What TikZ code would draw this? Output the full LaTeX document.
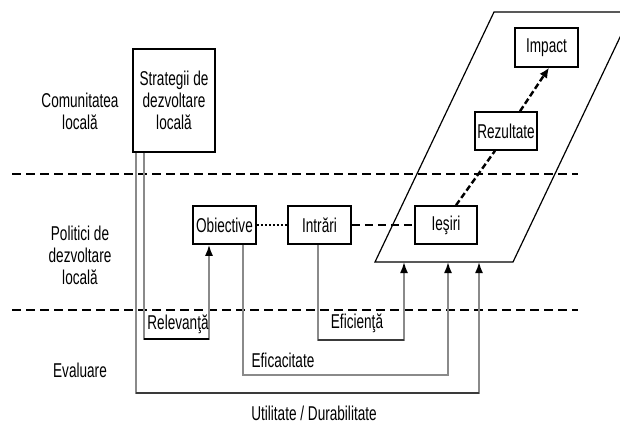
\documentclass[tikz,border=0pt]{standalone}
\usepackage{fontspec}
\setmainfont{Liberation Sans}[FakeStretch=0.68]
\usetikzlibrary{arrows.meta}
\definecolor{linkgray}{HTML}{8A8A8A}
\definecolor{darkline}{HTML}{3A3A3A}
\tikzset{
  lbl/.style={font=\fontsize{20}{22}\selectfont, align=center, inner sep=0pt},
  box/.style={draw=black, line width=1.5pt, fill=white, inner sep=0pt,
              font=\fontsize{20}{22}\selectfont, align=center},
  sep/.style={draw=black, line width=1.3pt, dash pattern=on 9pt off 5pt},
  conn/.style={draw=linkgray, line width=1.8pt,
               -{Latex[color=black,length=11pt,width=8pt]}},
  chain/.style={draw=black, line width=2.4pt, dash pattern=on 6pt off 3pt},
}
\begin{document}
\begin{tikzpicture}[x=1pt,y=-1pt]
\useasboundingbox (0,0) rectangle (620,432);
\clip (0,0) rectangle (620,432);

% level separators
\draw[sep] (12,174) -- (578,174);
\draw[sep] (12,310) -- (578,310);

% results plane
\coordinate (pb) at (375,262);
\draw[line width=1.2pt] (pb) -- (513,262) -- (632,12) -- (494,12) -- cycle;

% row labels
\node[lbl] (rowA) at (80,111) {Comunitatea\\local\u{a}};
\node[lbl] (rowB) at (80,255) {Politici de\\dezvoltare\\local\u{a}};
\node[lbl] (rowC) at (80,370) {Evaluare};

% bend points of the evaluation links
\coordinate (s1) at (144,0);
\coordinate (r1) at (209,339);
\coordinate (c1) at (243,0);
\coordinate (c2) at (448,375);
\coordinate (e1) at (318,0);
\coordinate (e2) at (404,340);
\coordinate (u1) at (136,0);
\coordinate (u2) at (479,393);
\coordinate (d1) at (456,0);
\coordinate (d2) at (495,0);
\coordinate (d3) at (520,0);
\coordinate (d4) at (549,0);

% boxes
\node[box, minimum width=82pt, minimum height=103pt] (strat) at (174,100.5)
  {Strategii de\\dezvoltare\\local\u{a}};
\node[box, minimum width=63pt, minimum height=38pt] (obj) at (224.5,225) {Obiective};
\node[box, minimum width=63pt, minimum height=38pt] (intr) at (319.5,225) {Intr\u{a}ri};
\node[box, minimum width=62pt, minimum height=38pt] (ies) at (446,225) {Ie\c{s}iri};
\node[box, minimum width=62pt, minimum height=38pt] (rez) at (506,131) {Rezultate};
\node[box, minimum width=63pt, minimum height=39pt] (imp) at (546.5,47.5) {Impact};

% evaluation links
\draw[conn] (strat.south -| u1) |- (u2) -- (u2 |- pb);
\draw[conn] (strat.south -| s1) |- (r1) -- (r1 |- obj.south);
\draw[black, line width=2.8pt] (s1 |- r1) -- (r1);
\draw[conn] (obj.south -| c1) |- (c2) -- (c2 |- pb);
\draw[conn] (intr.south -| e1) |- (e2) -- (e2 |- pb);
\draw[darkline, line width=1.8pt] (e1 |- e2) -- (e2);
\draw[darkline, line width=1.8pt] (u1 |- u2) -- (u2);

% chain between policy boxes
\draw[black, line width=1.3pt, dash pattern=on 2pt off 2pt] (obj.east) -- (intr.west);
\draw[black, line width=1.3pt, dash pattern=on 8pt off 5pt] (intr.east) -- (ies.west);

% results chain
\draw[chain] (ies.north -| d1) -- (rez.south -| d2);
\draw[chain, -{Latex[length=10pt,width=9pt]}] (rez.north -| d3) -- (imp.south -| d4);

% criteria labels
\node[lbl] (rel) at (178,324) {Relevan\c{t}\u{a}};
\node[lbl] (efc) at (283,360) {Eficacitate};
\node[lbl] (efi) at (357,323) {Eficien\c{t}\u{a}};
\node[lbl] (util) at (314,413) {Utilitate / Durabilitate};
\end{tikzpicture}
\end{document}
